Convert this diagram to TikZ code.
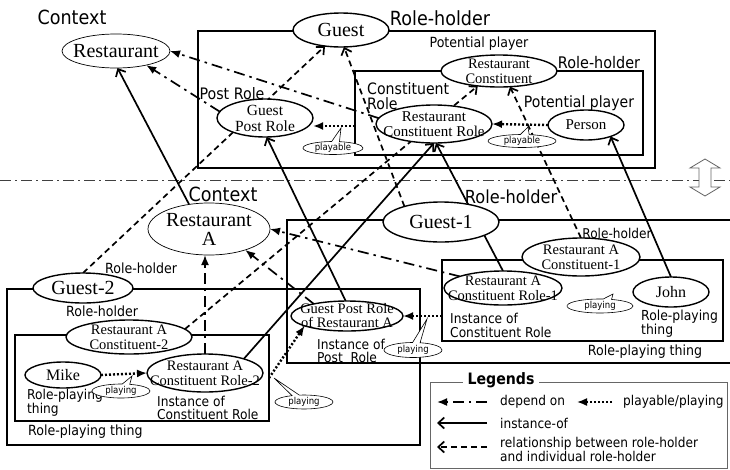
\documentclass[tikz,border=0pt]{standalone}
\usepackage{fontspec}
\setmainfont{Liberation Serif}
\newfontfamily\labfont[FakeStretch=0.9]{DejaVu Sans}
\usetikzlibrary{shapes.geometric,shapes.callouts,arrows.meta}
\pgfdeclarelayer{bg}
\pgfsetlayers{bg,main}
\tikzset{
 ell/.style={ellipse, draw, fill=white, line width=1.4pt, inner sep=0pt, outer sep=0pt},
 thinell/.style={line width=0.7pt},
 nt/.style 2 args={font=\fontsize{#1}{#2}\selectfont, align=center, inner sep=0pt},
 lab/.style 2 args={font=\labfont\fontsize{#1}{#2}\selectfont, inner sep=0pt},
 box/.style={draw, line width=2.2pt, rectangle, inner sep=0pt, outer sep=0pt, anchor=north west},
 dep/.style={line width=1.7pt, dash pattern=on 11pt off 5pt on 2.5pt off 5pt, -{Latex[length=10pt,width=8pt]}},
 inst/.style={line width=1.7pt, -{Straight Barb[length=6pt,width=11pt,line width=1.7pt]}},
 rel/.style={line width=1.7pt, dash pattern=on 6pt off 4pt, -{Straight Barb[length=6pt,width=11pt,line width=1.7pt]}},
 play/.style={line width=2.4pt, dash pattern=on 2pt off 2pt, -{Latex[length=10pt,width=8pt]}},
 call/.style={ellipse callout, draw, fill=white, line width=0.6pt, inner sep=0pt, font=\labfont\fontsize{9.5}{10}\selectfont},
}
\begin{document}
\begin{tikzpicture}[x=1pt,y=-1pt]
\useasboundingbox (0,0) rectangle (730,469);
\coordinate (y126) at (0,126);
\coordinate (y378) at (0,378);
\coordinate (dl) at (0,180);
\coordinate (dr) at (730,180);
% boxes
\begin{pgfonlayer}{bg}
\node[box, minimum width=457pt, minimum height=137pt] (ob) at (198,31) {};
\node[box, minimum width=288pt, minimum height=84pt] (ib) at (355,71) {};
\node[box, minimum width=453pt, minimum height=143pt] (g1b) at (287,220) {};
\node[box, minimum width=281pt, minimum height=81pt] (jb) at (442,260) {};
\node[box, minimum width=413pt, minimum height=156pt] (g2b) at (7,289) {};
\node[box, minimum width=254pt, minimum height=86pt] (mb) at (15,335) {};
\draw[black!75, line width=1pt, dash pattern=on 11pt off 4pt on 2pt off 4pt] (dl) -- (dr);
\end{pgfonlayer}
% ellipses
\node[ell,thinell,minimum width=108pt,minimum height=34pt,label={[nt={20}{18}]center:Restaurant}] (Rest) at (116,51) {};
\node[ell,minimum width=96pt,minimum height=34pt,label={[nt={20}{18}]center:Guest}] (Guest) at (341,30) {};
\node[ell,minimum width=116pt,minimum height=32pt,label={[nt={14.5}{15}]center:Restaurant\\Constituent}] (RC) at (499,71) {};
\node[ell,minimum width=116pt,minimum height=38pt,label={[nt={15}{15}]center:Restaurant\\Constituent Role}] (RCR) at (434,124) {};
\node[ell,minimum width=76pt,minimum height=30pt,label={[nt={15}{15}]center:Person}] (Person) at (586,125) {};
\node[ell,minimum width=96pt,minimum height=38pt,label={[nt={15.5}{16}]center:Guest\\Post Role}] (GPR) at (265,118) {};
\node[ell,thinell,minimum width=122pt,minimum height=52pt,label={[nt={20}{19}]center:Restaurant\\A}] (RestA) at (209,229) {};
\node[ell,minimum width=116pt,minimum height=40pt,label={[nt={20}{18}]center:Guest-1}] (Guest1) at (441,222) {};
\node[ell,minimum width=118pt,minimum height=38pt,label={[nt={14.5}{15}]center:Restaurant A\\Constituent-1}] (RAC1) at (581,257) {};
\node[ell,minimum width=118pt,minimum height=34pt,label={[nt={14.5}{15}]center:Restaurant A\\Constituent Role-1}] (RACR1) at (503,288) {};
\node[ell,minimum width=76pt,minimum height=30pt,label={[nt={16}{16}]center:John}] (John) at (671,292) {};
\node[ell,minimum width=112pt,minimum height=30pt,label={[nt={14.5}{14}]center:Guest Post Role\\of Restaurant A}] (GPRA) at (347,316) {};
\node[ell,minimum width=100pt,minimum height=30pt,label={[nt={20}{18}]center:Guest-2}] (Guest2) at (83,288) {};
\node[ell,minimum width=126pt,minimum height=34pt,label={[nt={14.5}{15}]center:Restaurant A\\Constituent-2}] (RAC2) at (129,337) {};
\node[ell,minimum width=116pt,minimum height=38pt,label={[nt={14.5}{15}]center:Restaurant A\\Constituent Role-2}] (RACR2) at (205,373) {};
\node[ell,minimum width=76pt,minimum height=26pt,label={[nt={16}{16}]center:Mike}] (Mike) at (63,375) {};
% labels
\node[lab={19.5}{20}] (tContext) at (72,17) {Context};
\node[lab={19.5}{20}] (tRH1) at (440,18) {Role-holder};
\node[lab={14}{15}] (tPP1) at (479,44) {Potential player};
\node[lab={16}{16}] (tRH2) at (599,63) {Role-holder};
\node[lab={15.7}{15},align=left,anchor=west] (tCR) at (367,96) {Constituent\\Role};
\node[lab={15.6}{16}] (tPP2) at (579,103) {Potential player};
\node[lab={15.8}{16}] (tPR) at (232,94) {Post Role};
\node[lab={19.5}{20}] (tContext2) at (223,194) {Context};
\node[lab={18}{18}] (tRH3) at (511,197) {Role-holder};
\node[lab={13.5}{14}] (tRH4) at (617,233) {Role-holder};
\node[lab={13.6}{14},align=left,anchor=west] (tIC1) at (450,325) {Instance of\\Constituent Role};
\node[lab={13.8}{14},align=left,anchor=west] (tRP1) at (641,324) {Role-playing\\thing};
\node[lab={14}{14}] (tRP2) at (645,352) {Role-playing thing};
\node[lab={13.6}{12.5},align=left,anchor=west] (tIP) at (317,351) {Instance of\\Post\ \ Role};
\node[lab={14}{14}] (tRH5) at (141,268) {Role-holder};
\node[lab={14}{14}] (tRH6) at (102,311) {Role-holder};
\node[lab={13.6}{12.5},align=left,anchor=west] (tRP3) at (27,403) {Role-playing\\thing};
\node[lab={13.6}{13.5},align=left,anchor=west] (tIC2) at (157,408) {Instance of\\Constituent Role};
\node[lab={14}{14},anchor=west] (tRP4) at (28,432) {Role-playing thing};
% connectors
\begin{pgfonlayer}{bg}
\draw[dep] (RCR.174) -- (Rest.east);
\draw[dep] (GPR.172) -- (Rest.335);
\draw[rel] (Guest2.north) -- (Guest.225);
\draw[rel] (Guest1.157) -- (Guest.280);
\draw[rel] (RAC1.north) -- (RC.305);
\draw[rel] (RAC2.8) -- (RC.215);
\draw[dep] (RACR1.165) -- (RestA.east);
\draw[dep] (GPRA.160) -- (RestA.330);
\draw[dep] (RACR2.north) -- (RACR2.north |- RestA.south);
\draw[inst] (RestA.129) -- (Rest.275);
\draw[inst] (GPRA.95) -- (GPR.275);
\draw[inst] (RACR1.north) -- (RCR.276);
\draw[inst] (RACR2.20) -- (RCR.270);
\draw[inst] (John.north) -- (Person.335);
\draw[play] (Person.west) -- (RCR.east);
\draw[play] (ib.west |- y126) -- (GPR.east |- y126);
\draw[play] (jb.west |- GPRA.east) -- (GPRA.east);
\draw[play] (Mike.east) -- (RACR2.west);
\draw[play] (mb.east |- y378) -- (GPRA.193);
\end{pgfonlayer}
% callouts
\node[call,minimum width=60pt,minimum height=13pt,callout absolute pointer={(341,128)}] (c1) at (333,148) {playable};
\node[call,minimum width=68pt,minimum height=13pt,callout absolute pointer={(528,127)}] (c2) at (522,141) {playable};
\node[call,minimum width=66pt,minimum height=14pt,callout absolute pointer={(613,294)}] (c3) at (600,306) {playing};
\node[call,minimum width=58pt,minimum height=15pt,callout absolute pointer={(427,319)}] (c4) at (413,350) {playing};
\node[call,minimum width=58pt,minimum height=14pt,callout absolute pointer={(132,376)}] (c5) at (121,391) {playing};
\node[call,minimum width=58pt,minimum height=14pt,callout absolute pointer={(274,378)}] (c6) at (304,402) {playing};
% double arrow
\draw[black!60, line width=0.8pt, fill=white] (705,159) -- (720,168) -- (711,168) -- (711,187) -- (720,187) -- (705,196) -- (690,187) -- (699,187) -- (699,168) -- (690,168) -- cycle;
% legend
\node[draw=black!60, line width=0.8pt, rectangle, inner sep=0pt, minimum width=297pt, minimum height=86pt, anchor=north west] (lb) at (430,382) {};
\node[lab={15.7}{16}, fill=white, inner xsep=5pt, inner ysep=1pt] (tLeg) at (501,380) {\bfseries Legends};
\coordinate (L1a) at (487,402); \coordinate (L1b) at (437,402);
\coordinate (L2a) at (612,402); \coordinate (L2b) at (577,402);
\coordinate (L3a) at (487,423); \coordinate (L3b) at (437,423);
\coordinate (L4a) at (487,447); \coordinate (L4b) at (437,447);
\draw[dep] (L1a) -- (L1b);
\draw[play, line width=1.6pt] (L2a) -- (L2b);
\draw[inst] (L3a) -- (L3b);
\draw[rel] (L4a) -- (L4b);
\node[lab={13.5}{14}, anchor=west] (tDep) at (500,402) {depend on};
\node[lab={13.5}{14}, anchor=west] (tPlay) at (623,402) {playable/playing};
\node[lab={13.5}{14}, anchor=west] (tInst) at (500,423) {instance-of};
\node[lab={13.5}{14.5}, anchor=west, align=left] (tRel) at (500,449.5) {relationship between role-holder\\and individual role-holder};
\end{tikzpicture}
\end{document}
